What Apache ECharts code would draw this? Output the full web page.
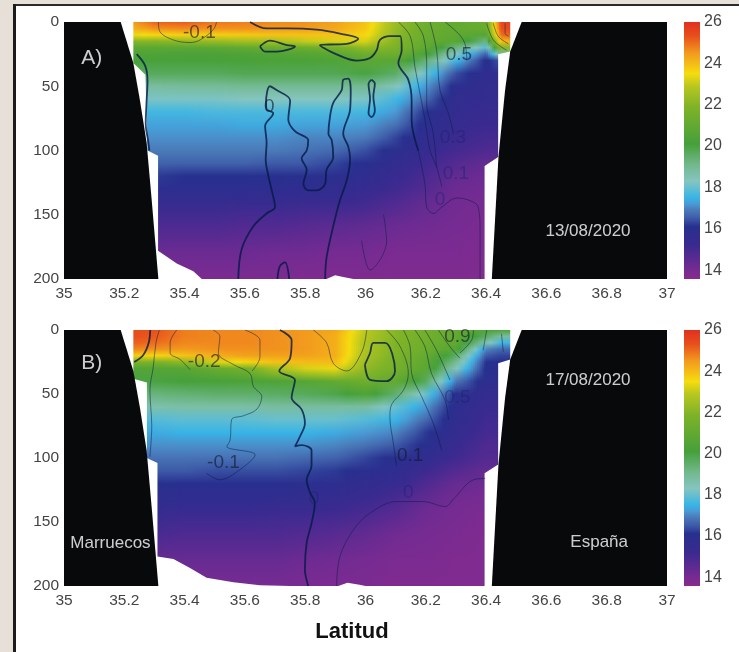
<!DOCTYPE html>
<html><head><meta charset="utf-8">
<style>html,body{margin:0;padding:0;background:#fff}#c{width:739px;height:652px}</style>
<script src="https://cdn.jsdelivr.net/npm/echarts@6/dist/echarts.min.js"></script>
</head><body><div id="c"></div>
<script>
const lats = [35.2,35.3,35.4,35.5,35.6,35.7,35.8,35.9,36.0,36.1,36.2,36.3,36.4,36.45,36.5];
const depths = [0,5,10,15,20,25,30,40,50,60,70,80,90,100,110,120,130,140,160,180,200];
const tempA = [
[24.2,24,23.3,22,20.8,20.4,20.2,19.7,18.8,18.2,17.6,17.3,17.1,16.9,16.6,16.2,15.8,15.5,14.8,14.2,13.9],
[25.1,24.6,23.6,22,20.8,20.4,20.2,19.7,18.8,18.2,17.6,17.3,17.1,16.9,16.6,16.2,15.8,15.5,14.8,14.2,13.9],
[25.2,24.7,23.7,22.2,20.8,20.3,20.2,19.7,18.9,18.2,17.6,17.3,17.1,16.9,16.6,16.1,15.8,15.5,14.8,14.2,13.9],
[24.9,24.6,23.7,22.3,20.8,20.3,20.2,19.7,18.9,18.2,17.7,17.3,17.1,16.9,16.6,16.1,15.8,15.5,14.8,14.2,13.9],
[24.8,24.6,23.8,22.5,21,20.4,20.2,19.8,19,18.3,17.7,17.4,17.1,16.9,16.6,16.1,15.8,15.4,14.7,14.2,13.9],
[24.7,24.5,23.9,22.6,21.2,20.5,20.3,19.8,19,18.3,17.7,17.4,17.1,16.9,16.5,16.1,15.7,15.4,14.7,14.1,13.9],
[24.6,24.5,23.9,23,21.3,20.6,20.3,19.8,19,18.3,17.7,17.3,17,16.8,16.5,16,15.7,15.3,14.6,14.1,13.8],
[24.4,24.3,23.9,23.2,21.6,20.8,20.4,19.8,19,18.3,17.7,17.3,17,16.7,16.3,15.9,15.6,15.3,14.5,14,13.8],
[23.9,23.8,23.6,23.2,22.2,21.3,20.8,20,19,18.2,17.6,17.2,16.9,16.4,16,15.7,15.4,15.1,14.4,14,13.8],
[22.4,22.3,22.2,22,21.8,21.3,20.7,19.6,18.4,17.6,17.2,16.8,16.3,15.9,15.6,15.3,15.1,14.8,14.2,13.9,13.8],
[21.4,21.3,21.2,21.1,20.9,20.3,19.4,18,17.2,16.7,16.1,15.9,15.6,15.4,15.1,14.9,14.7,14.4,14.1,13.9,13.8],
[21,21,20.9,20.7,19.3,18.3,17.6,16.4,15.9,15.6,15.5,15.4,15.2,15,14.7,14.4,14.2,14.1,14,13.9,13.8],
[21.3,21.2,20.6,19.2,17.8,16.6,16,15.7,15.6,15.5,15.3,15.2,15,14.8,14.4,14.2,14.1,14,13.9,13.8,13.8],
[25.5,25.4,25,24,22,19,16.5,15.7,15.6,15.5,15.3,15.2,15,14.8,14.4,14.2,14.1,14,13.9,13.8,13.8],
[25.6,25.5,25.2,24.2,22.2,19,16.5,15.7,15.6,15.5,15.3,15.2,15,14.8,14.4,14.2,14.1,14,13.9,13.8,13.8]
];
const tempB = [
[25.4,25.4,25.2,24.8,23.8,21.8,20.6,20,19.3,18.6,17.8,17.4,17.1,16.8,16.5,16.1,15.8,15.5,14.9,14.3,14],
[25.3,25.2,25,24.6,23.6,21.8,20.6,20,19.3,18.6,17.8,17.4,17.1,16.8,16.5,16.1,15.8,15.5,14.9,14.3,14],
[24.8,24.8,24.7,24.5,23.9,22.2,20.7,20.1,19.4,18.7,17.9,17.5,17.1,16.8,16.5,16,15.7,15.4,14.8,14.3,14],
[24.7,24.7,24.7,24.6,24.2,23.2,21.2,20.2,19.5,18.7,17.9,17.5,17.1,16.8,16.4,16,15.7,15.4,14.8,14.3,14],
[24.7,24.7,24.7,24.6,24.4,23.6,21.6,20.3,19.5,18.7,17.9,17.5,17.1,16.8,16.4,16,15.7,15.4,14.8,14.3,14],
[24.6,24.6,24.6,24.6,24.4,23.9,22.6,20.4,19.6,18.8,18,17.5,17.1,16.8,16.4,16,15.7,15.3,14.8,14.3,14],
[24.5,24.5,24.5,24.5,24.4,24,23.2,20.6,19.7,18.8,18,17.5,17.1,16.7,16.3,15.9,15.6,15.3,14.7,14.2,13.9],
[24.3,24.2,24.2,24.2,24.2,24,23.4,21,19.9,18.8,18,17.4,17,16.6,16.2,15.8,15.5,15.2,14.6,14.1,13.9],
[22.9,22.8,22.7,22.7,22.6,22.4,22.2,21.4,20.4,18.8,17.8,17.2,16.8,16.3,15.9,15.6,15.3,15,14.4,14,13.9],
[22,22,21.9,21.9,21.8,21.7,21.6,21,19.5,18,17.5,17,16.5,16,15.7,15.4,15,14.7,14.1,13.9,13.8],
[21.5,21.5,21.4,21.3,21.1,20.9,20.8,19.7,18,17.2,16.7,16.2,16,15.6,15.2,14.8,14.5,14.2,14,13.9,13.8],
[21,21,20.9,20.6,19.6,19,18.4,16.9,16,15.8,15.7,15.5,15.3,15.1,14.7,14.3,14.1,14,13.9,13.8,13.8],
[20.4,19.6,18.6,17,16.5,16.1,16,15.8,15.5,15.3,15.1,15,14.8,14.7,14.4,14.2,14,13.9,13.8,13.8,13.8],
[20.4,18.8,17.6,16.7,16.3,16,16,15.8,15.5,15.3,15.1,15,14.8,14.7,14.4,14.2,14,13.9,13.8,13.8,13.8],
[20.4,18.8,17.6,16.7,16.3,16,16,15.8,15.5,15.3,15.1,15,14.8,14.7,14.4,14.2,14,13.9,13.8,13.8,13.8]
];
const colorTemps = [13.57,14,15.2,16.1,16.5,16.9,17.2,17.5,18.3,19.1,20.1,21.9,22.9,23.5,24.5,25.3,26];
const colorHex = ['#8a2a8c','#762b92','#3a2a90','#27308e','#3d5aa8','#4a7ab8','#4a9ad5','#38b4e6','#85c5c0','#72b88c','#45a03a','#7fb327','#b9c71f','#f5dc0f','#f29a1e','#e8501c','#e03020'];
const colorTicks = [14,16,18,20,22,24,26];

const landLeft = [[35,0],[35.188,0],[35.23,32],[35.252,61],[35.274,94],[35.291,139],[35.313,200],[35,200]];
const landRight = [[36.518,0],[36.48,23],[36.463,53],[36.441,105],[36.419,200],[37,200],[37,0]];
const gapLeftA = [[35.15,0],[35.23,0],[35.23,32],[35.27,41],[35.277,100],[35.312,104],[35.312,178],[35.374,188],[35.429,194],[35.457,200],[35.15,200]];
const gapRightA = [[36.48,0],[36.48,23],[36.44,25],[36.44,105],[36.395,112],[36.395,200],[36.55,200],[36.55,0]];
const notchA = [[35.871,200],[35.899,197],[35.926,198.5],[35.96,200]];
const gapLeftB = [[35.15,0],[35.23,0],[35.23,38],[35.275,41],[35.275,100],[35.31,104],[35.31,177],[35.363,179],[35.418,186],[35.473,193.5],[35.562,197],[35.65,199.5],[35.75,200],[35.15,200]];
const gapRightB = [[36.48,0],[36.48,23],[36.44,26],[36.44,105],[36.395,112],[36.395,200],[36.55,200],[36.55,0]];
const notchB = [[35.91,200],[35.94,197.5],[35.98,199],[36.0,200]];

const thickA = [
[[35.241,25],[35.269,34],[35.277,46],[35.274,61],[35.271,79],[35.28,94],[35.283,100]],
[[35.578,200],[35.589,177],[35.628,159],[35.672,149],[35.7,144],[35.689,131],[35.678,120],[35.669,107],[35.672,94],[35.667,81],[35.694,71],[35.672,68],[35.67,63],[35.683,50],[35.705,53],[35.75,61],[35.744,76],[35.766,85],[35.81,92],[35.805,100],[35.788,106],[35.805,115],[35.794,126],[35.81,131],[35.838,131],[35.866,126],[35.871,115],[35.893,105],[35.888,92],[35.877,87],[35.882,74],[35.893,63],[35.921,53],[35.926,45],[35.943,44],[35.951,53],[35.949,68],[35.926,87],[35.943,97],[35.949,107],[35.938,123],[35.915,139],[35.893,159],[35.871,183],[35.866,200]],
[[35.617,0],[35.672,5],[35.739,5],[35.838,6],[35.915,9],[35.976,13],[35.938,17],[35.849,18],[35.893,24],[35.971,30],[36.015,28],[36.037,22],[36.048,14],[36.081,11],[36.115,11],[36.12,22],[36.109,32],[36.142,45],[36.153,61],[36.153,76],[36.175,100]],
[[35.65,19],[35.683,14.5],[35.739,18],[35.766,19],[35.705,23],[35.667,23],[35.65,19]],
[[36.02,45],[36.031,48],[36.026,58],[36.031,69],[36.02,74],[36.01,71],[36.015,60],[36.01,48],[36.02,45]],
[[35.708,200],[35.716,190],[35.733,187],[35.747,200]]
];
const thinA = [
[[36.175,100],[36.197,126],[36.203,144],[36.225,149],[36.253,144],[36.303,137],[36.347,139],[36.374,144],[36.38,164],[36.38,200]],
[[35.313,0],[35.318,7.5],[35.363,14],[35.418,16],[35.451,14],[35.495,6],[35.506,0]],
[[35.987,170],[36.015,193],[36.07,171],[36.06,150]],
[[36.109,0],[36.148,11],[36.164,35],[36.181,56],[36.197,76],[36.214,100],[36.236,113],[36.253,128]],
[[36.164,0],[36.192,11],[36.203,35],[36.203,63],[36.225,87],[36.236,113]],
[[36.214,0],[36.236,22],[36.247,53],[36.275,71],[36.292,87]],
[[36.264,0],[36.308,9],[36.33,17],[36.336,30]],
[[36.402,1],[36.424,14],[36.468,22]],
[[36.424,1],[36.44,11],[36.474,17]],
[[36.463,1],[36.463,9],[36.474,11]]
];
const thickB = [
[[35.286,0],[35.281,10],[35.263,19.5],[35.233,25]],
[[35.716,0],[35.755,8],[35.75,22],[35.714,32],[35.766,39],[35.755,53],[35.788,62],[35.799,73],[35.783,83],[35.766,91],[35.788,90],[35.821,94],[35.821,106],[35.805,117],[35.816,127],[35.832,135],[35.821,151],[35.805,166],[35.799,187],[35.81,200]],
[[35.998,27],[36.015,18],[36.026,10],[36.065,10],[36.098,32],[36.07,40],[36.015,39],[35.998,27]]
];
const thinB = [
[[35.316,0],[35.305,10],[35.296,29],[35.285,47],[35.291,75],[35.285,99]],
[[35.374,0],[35.352,10],[35.352,18],[35.385,23],[35.418,31]],
[[35.495,0],[35.517,5],[35.512,18],[35.562,27],[35.617,34],[35.628,44],[35.656,52],[35.639,62],[35.595,67],[35.556,70],[35.551,86],[35.54,91],[35.634,97.5],[35.584,109],[35.517,117],[35.473,112]],
[[35.6,0],[35.65,8],[35.65,21],[35.624,32]],
[[35.904,200],[35.915,177],[35.96,156],[36.015,143],[36.103,134],[36.192,134],[36.264,138],[36.292,132],[36.358,117],[36.397,116]],
[[35.827,0],[35.871,10],[35.893,26],[35.938,32],[35.988,17],[36.004,0]],
[[36.07,0],[36.115,13],[36.142,34],[36.126,47],[36.087,58],[36.081,68],[36.092,88],[36.103,106]],
[[36.126,0],[36.148,13],[36.153,34],[36.186,52],[36.225,73],[36.253,94]],
[[36.164,0],[36.197,13],[36.219,34],[36.264,55],[36.275,70]],
[[36.197,0],[36.236,16],[36.28,39]],
[[36.242,0],[36.28,13],[36.313,22]],
[[36.358,0],[36.352,8],[36.313,18]],
[[36.402,0],[36.39,16]],
[[36.451,3],[36.457,17]]
];
const darkTextA = [[35.449,8,'-0.1'],[35.681,66,'0'],[36.31,25.7,'0.5']];
const fadedTextA = [[36.29,90,'0.3'],[36.3,118,'0.1'],[36.247,138,'0']];
const whiteTextA = [[35.092,28,'A)',21],[36.738,163,'13/08/2020',17]];
const darkTextB = [[35.465,25,'-0.2'],[35.529,104,'-0.1'],[36.148,98,'0.1'],[36.305,5,'0.9']];
const fadedTextB = [[35.829,132,'0'],[36.142,127,'0'],[36.305,53,'0.5']];
const whiteTextB = [[35.092,26,'B)',21],[36.738,39,'17/08/2020',17],[36.775,166,'España',17],[35.154,167,'Marruecos',17]];

const font = '"Liberation Sans", Arial, sans-serif';
const grids = [
  {left:64,top:22,width:603,height:257},
  {left:64,top:330,width:603,height:256},
  {left:684,top:22,width:16,height:257},
  {left:684,top:330,width:16,height:256}
];
const hexRgb = h => [1,3,5].map(i => parseInt(h.substr(i,2),16));
const colorRgb = colorHex.map(hexRgb);
function tempColor(t){
  let i = 0;
  while (i < colorTemps.length-2 && t > colorTemps[i+1]) i++;
  const f = Math.max(0, Math.min(1, (t-colorTemps[i])/(colorTemps[i+1]-colorTemps[i])));
  const a = colorRgb[i], b = colorRgb[i+1];
  return 'rgb(' + a.map((v,k) => Math.round(v+(b[k]-v)*f)).join(',') + ')';
}
function fieldSeries(table, g){
  return {type:'custom', coordinateSystem:'cartesian2d', xAxisIndex:g, yAxisIndex:g, clip:true, silent:true, z:1,
    data: lats.map((v,i)=>[v,i]),
    renderItem(params, api){
      const i = params.dataIndex;
      if (i >= lats.length-1) return null;
      const p0 = api.coord([lats[i],0]), p1 = api.coord([lats[i+1],200]);
      const w = p1[0]-p0[0], n = Math.max(1,Math.ceil(w/2)), children = [];
      for (let s=0;s<n;s++){
        const f=(s+0.5)/n;
        const stops = depths.map((d,k)=>({offset:d/200,color:tempColor(table[i][k]+(table[i+1][k]-table[i][k])*f)}));
        children.push({type:'rect',shape:{x:p0[0]+w*s/n,y:p0[1],width:w/n+1,height:p1[1]-p0[1]},
          style:{fill:{type:'linear',x:0,y:0,x2:0,y2:1,colorStops:stops}}});
      }
      return {type:'group',children};
    }};
}
function polySeries(poly,color,g,z){
  return {type:'custom',coordinateSystem:'cartesian2d',xAxisIndex:g,yAxisIndex:g,clip:true,silent:true,z,
    data:poly,
    renderItem(params,api){
      if (params.dataIndex!==0) return null;
      return {type:'polygon',shape:{points:poly.map(p=>api.coord(p))},style:{fill:color}};
    }};
}
function lineSeries(list,g,width,color){
  return list.map(pts=>({type:'line',xAxisIndex:g,yAxisIndex:g,data:pts,symbol:'none',smooth:0.35,silent:true,z:5,
    lineStyle:{width,color}}));
}
function textSeries(list,g,color,size){
  return {type:'scatter',xAxisIndex:g,yAxisIndex:g,symbolSize:0,silent:true,z:7,clip:false,
    data:list.map(t=>({
      value:[t[0],t[1]],
      label:{show:true,position:'inside',formatter:t[2],color,fontSize:t[3]||size,fontFamily:font}
    }))};
}
function colorbarSeries(g){
  return {type:'custom',coordinateSystem:'cartesian2d',xAxisIndex:g,yAxisIndex:g,silent:true,z:1,
    data:colorTemps.map(t=>[0,t]),
    renderItem(params,api){
      if (params.dataIndex!==0) return null;
      const a=api.coord([0,26]), b=api.coord([1,13.57]);
      const stops=colorTemps.map((t,i)=>({offset:(26-t)/(26-13.57),color:colorHex[i]})).reverse();
      return {type:'rect',shape:{x:a[0],y:a[1],width:b[0]-a[0],height:b[1]-a[1]},
        style:{fill:{type:'linear',x:0,y:0,x2:0,y2:1,colorStops:stops}}};
    }};
}
const labelStyle = {color:'#444',fontSize:15.5,fontFamily:font};
const xAxes = [0,1].map(g=>({gridIndex:g,type:'value',min:35,max:37,interval:0.2,
  axisLine:{show:false},axisTick:{show:false},splitLine:{show:false},axisLabel:{...labelStyle,margin:7,showMinLabel:true,showMaxLabel:true}}))
  .concat([2,3].map(g=>({gridIndex:g,type:'value',min:0,max:1,show:false})));
const yAxes = [0,1].map(g=>({gridIndex:g,type:'value',inverse:true,min:0,max:200,interval:50,
  axisLine:{show:false},axisTick:{show:false},splitLine:{show:false},axisLabel:{...labelStyle,margin:5}}))
  .concat([2,3].map(g=>({gridIndex:g,type:'value',min:13.57,max:26,position:'right',
  axisLine:{show:false},axisTick:{show:false},splitLine:{show:false},
  axisLabel:{...labelStyle,fontSize:16,margin:4,customValues:colorTicks}})));
const textDark='rgba(20,25,45,0.8)', textFaded='rgba(25,35,110,0.55)';
const thickColor='rgba(5,25,70,0.8)', thinColor='rgba(10,30,70,0.5)';
const series = [
  fieldSeries(tempA,0), fieldSeries(tempB,1),
  polySeries(gapLeftA,'#fff',0,2), polySeries(gapRightA,'#fff',0,2), polySeries(notchA,'#fff',0,2),
  polySeries(gapLeftB,'#fff',1,2), polySeries(gapRightB,'#fff',1,2), polySeries(notchB,'#fff',1,2),
  ...lineSeries(thickA,0,1.8,thickColor), ...lineSeries(thinA,0,1,thinColor),
  ...lineSeries(thickB,1,1.8,thickColor), ...lineSeries(thinB,1,1,thinColor),
  polySeries(landLeft,'#08090b',0,6), polySeries(landRight,'#08090b',0,6),
  polySeries(landLeft,'#08090b',1,6), polySeries(landRight,'#08090b',1,6),
  textSeries(darkTextA,0,textDark,19), textSeries(fadedTextA,0,textFaded,19), textSeries(whiteTextA,0,'#fff',17),
  textSeries(darkTextB,1,textDark,19), textSeries(fadedTextB,1,textFaded,19), textSeries(whiteTextB,1,'#fff',17),
  colorbarSeries(2), colorbarSeries(3)
];
const chart = echarts.init(document.getElementById('c'),null,{renderer:'canvas'});
chart.setOption({
  animation:false, backgroundColor:'#fff', grid:grids, xAxis:xAxes, yAxis:yAxes, series,
  graphic:[
    {type:'rect',z:-1,shape:{x:0,y:0,width:739,height:4},style:{fill:'#e6e0d8'}},
    {type:'rect',z:-1,shape:{x:0,y:0,width:13,height:652},style:{fill:'#e6e0d8'}},
    {type:'rect',z:-1,shape:{x:13,y:4,width:726,height:2},style:{fill:'#2a2a2a'}},
    {type:'rect',z:-1,shape:{x:13,y:4,width:3,height:648},style:{fill:'#1c1c1c'}},
    {type:'text',z:10,x:352,y:632,style:{text:'Latitud',fill:'#111',font:'bold 22px '+font,textAlign:'center',textVerticalAlign:'middle'}}
  ]
});
</script></body></html>
